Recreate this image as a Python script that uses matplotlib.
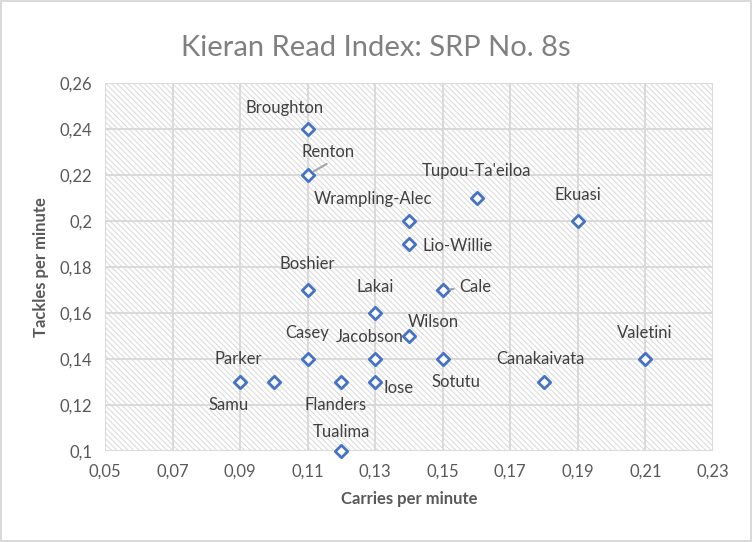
import matplotlib.pyplot as plt
from matplotlib.patches import Rectangle

plt.rcParams['font.family'] = ['Lato', 'DejaVu Sans']
plt.rcParams['hatch.linewidth'] = 0.8

# data
players = ['Broughton', 'Renton', "Tupou-Ta'eiloa", 'Ekuasi', 'Wrampling-Alec',
           'Lio-Willie', 'Boshier', 'Cale', 'Lakai', 'Wilson', 'Casey', 'Jacobson',
           'Sotutu', 'Valetini', 'Samu', 'Parker', 'Flanders', 'Iose',
           'Canakaivata', 'Tualima']
carries = [0.11, 0.11, 0.16, 0.19, 0.14, 0.14, 0.11, 0.15, 0.13, 0.14, 0.11, 0.13,
           0.15, 0.21, 0.09, 0.10, 0.12, 0.13, 0.18, 0.12]
tackles = [0.24, 0.22, 0.21, 0.20, 0.20, 0.19, 0.17, 0.17, 0.16, 0.15, 0.14, 0.14,
           0.14, 0.14, 0.13, 0.13, 0.13, 0.13, 0.13, 0.10]

# label offsets in pixels (dx, dy), moved around like in the excel chart
offsets = {'Broughton': (-23, 21), 'Renton': (20, 23), "Tupou-Ta'eiloa": (0, 27),
           'Ekuasi': (0, 26), 'Wrampling-Alec': (-36, 22), 'Lio-Willie': (49, -2),
           'Boshier': (0, 26), 'Cale': (33, 3), 'Lakai': (0, 26), 'Wilson': (24, 14),
           'Casey': (0, 26), 'Jacobson': (-5, 22), 'Sotutu': (13, -23),
           'Valetini': (-1, 26), 'Samu': (-11, -23), 'Parker': (-36, 23),
           'Flanders': (-6, -23), 'Iose': (23, -6), 'Canakaivata': (-4, 23),
           'Tualima': (0, 19)}
leaders = {'Renton': (19, 11), 'Cale': (11, 1)}

xticks = [0.05, 0.07, 0.09, 0.11, 0.13, 0.15, 0.17, 0.19, 0.21, 0.23]
yticks = [0.10, 0.12, 0.14, 0.16, 0.18, 0.20, 0.22, 0.24, 0.26]

fig = plt.figure(figsize=(7.52, 5.42), dpi=100)
fig.patch.set_edgecolor('#d9d9d9')
fig.patch.set_linewidth(1.5)
ax = fig.add_axes([0.1396, 0.168, 0.8085, 0.679])

# hatched plot area
ax.add_patch(Rectangle((0, 0), 1, 1, transform=ax.transAxes, facecolor='white',
                       edgecolor='#dcdcdc', hatch='\\' * 6, linewidth=0, zorder=0))

ax.set_xlim(0.05, 0.23)
ax.set_ylim(0.10, 0.26)
ax.set_xticks(xticks)
ax.set_yticks(yticks)
ax.set_xticklabels([('%g' % v).replace('.', ',') for v in xticks])
ax.set_yticklabels([('%g' % v).replace('.', ',') for v in yticks])
ax.grid(True, color='#d9d9d9', linewidth=1.4, zorder=1)
ax.set_axisbelow(True)
for s in ax.spines.values():
    s.set_visible(False)
ax.tick_params(length=0, labelsize=12, labelcolor='#595959', pad=9)

ax.scatter(carries, tackles, marker='D', s=40, facecolor='white', edgecolor='#4472c4',
           linewidth=2, zorder=3, clip_on=False)

for name, x, y in zip(players, carries, tackles):
    dx, dy = offsets[name]
    ax.annotate(name, (x, y), xytext=(dx, dy), textcoords='offset pixels',
                ha='center', va='center', fontsize=12, color='#404040', zorder=4)
    if name in leaders:
        ax.annotate('', (x, y), xytext=leaders[name], textcoords='offset pixels',
                    arrowprops=dict(arrowstyle='-', color='#a6a6a6', lw=1.5,
                                    shrinkA=0, shrinkB=5))

ax.set_xlabel('Carries per minute', fontsize=12, fontweight='bold', color='#595959',
              labelpad=8)
ax.set_ylabel('Tackles per minute', fontsize=12, fontweight='bold', color='#595959',
              labelpad=8)
fig.suptitle('Kieran Read Index: SRP No. 8s', y=0.935, fontsize=21, color='#808080')

fig.savefig('out.png', dpi=100, edgecolor=fig.get_edgecolor())
